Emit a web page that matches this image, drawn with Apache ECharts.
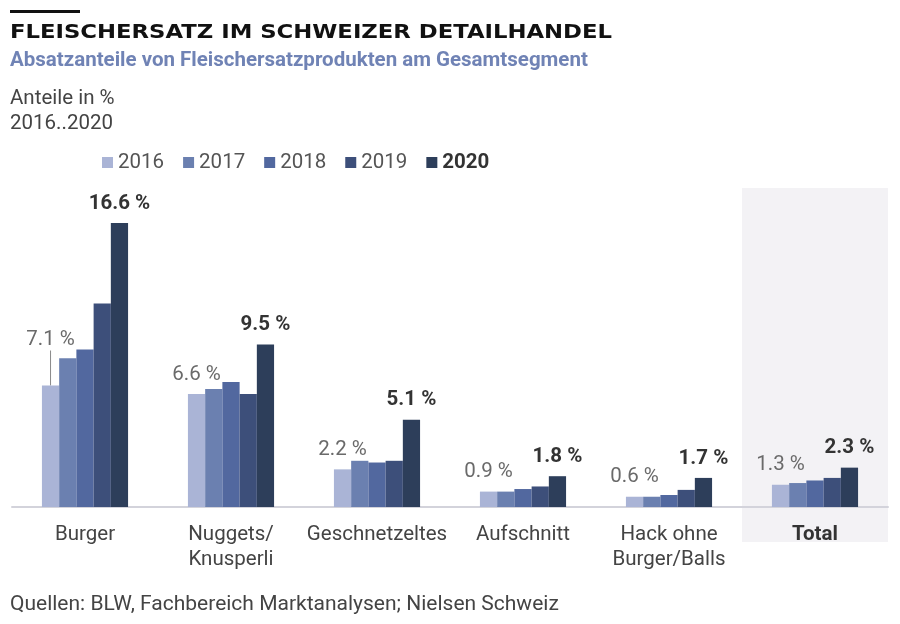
<!DOCTYPE html>
<html>
<head>
<meta charset="utf-8">
<script src="https://cdn.jsdelivr.net/npm/echarts@6/dist/echarts.min.js"></script>
<style>html,body{margin:0;padding:0;background:#fff}#c{width:900px;height:624px}</style>
</head>
<body>
<div id="c"></div>
<script>
const categories = ['Burger', 'Nuggets/\nKnusperli', 'Geschnetzeltes', 'Aufschnitt', 'Hack ohne\nBurger/Balls', 'Total'];
const years = ['2016', '2017', '2018', '2019', '2020'];
const v2016 = [7.1, 6.6, 2.2, 0.9, 0.6, 1.3];
const v2017 = [8.7, 6.9, 2.7, 0.9, 0.6, 1.4];
const v2018 = [9.2, 7.3, 2.6, 1.05, 0.7, 1.55];
const v2019 = [11.9, 6.6, 2.7, 1.2, 1.0, 1.7];
const v2020 = [16.6, 9.5, 5.1, 1.8, 1.7, 2.3];
const seriesValues = [v2016, v2017, v2018, v2019, v2020];
const colors = ['#aab4d6', '#6b80b0', '#52689f', '#3d4f7a', '#2d3e5a'];

const titleText = 'FLEISCHERSATZ IM SCHWEIZER DETAILHANDEL';
const subtitleText = 'Absatzanteile von Fleischersatzprodukten am Gesamtsegment';
const unitText = 'Anteile in %\n2016..2020';
const sourceText = 'Quellen: BLW, Fachbereich Marktanalysen; Nielsen Schweiz';

const FONT = 'Roboto';
const FS = 20.5;
const chart = echarts.init(document.getElementById('c'), null, {renderer: 'canvas'});

const series = years.map((y, i) => {
  const s = {
    name: y,
    type: 'bar',
    data: seriesValues[i],
    barGap: '0%',
    barCategoryGap: '41%',
    itemStyle: {color: colors[i]},
    z: 3
  };
  if (i === 0) {
    s.data = seriesValues[i].map((v, j) => (j === 0 ? {value: v, labelLine: {show: true}} : v));
    s.label = {
      show: true, position: 'top', distance: 9,
      fontFamily: FONT, fontSize: FS, color: '#6a6a6a',
      formatter: p => p.value.toFixed(1) + ' %'
    };
    s.labelLayout = p => (p.dataIndex === 0 ? {dy: -26} : {});
    s.labelLine = {show: false, lineStyle: {color: '#8a8a8a', width: 1}};
  } else if (i === 4) {
    s.label = {
      show: true, position: 'top', distance: 9,
      fontFamily: FONT, fontSize: FS, fontWeight: 'bold', color: '#333',
      formatter: p => p.value.toFixed(1) + ' %'
    };
  }
  return s;
});

const option = {
  backgroundColor: '#fff',
  animation: false,
  title: [
    {text: subtitleText, left: 10, top: 50, padding: 0,
     textStyle: {fontFamily: FONT, fontWeight: 'bold', fontSize: FS, color: '#7083b5'}},
    {text: unitText, left: 10, top: 87, padding: 0,
     textStyle: {fontFamily: FONT, fontWeight: 'normal', fontSize: FS, lineHeight: 24.5, color: '#444'}},
    {text: sourceText, left: 10, top: 594, padding: 0,
     textStyle: {fontFamily: FONT, fontWeight: 'normal', fontSize: 21, color: '#444'}}
  ],
  legend: {
    left: 102, top: 152, padding: 0,
    itemWidth: 11, itemHeight: 11, itemGap: 19,
    icon: 'rect',
    textStyle: {fontFamily: FONT, fontSize: FS, color: '#555'},
    data: years.map((y, i) => i === 4
      ? {name: y, textStyle: {fontWeight: 'bold', color: '#333'}}
      : {name: y})
  },
  grid: {left: 12, right: 12, top: 199, bottom: 117, containLabel: false},
  xAxis: {
    type: 'category',
    data: categories,
    axisLine: {lineStyle: {color: '#d3d3db', width: 2}},
    axisTick: {show: false},
    axisLabel: {
      fontFamily: FONT, fontSize: FS, color: '#444', lineHeight: 25, margin: 15,
      interval: 0,
      formatter: v => (v === 'Total' ? '{b|' + v + '}' : v),
      rich: {b: {fontFamily: FONT, fontSize: FS, fontWeight: 'bold', color: '#333'}}
    }
  },
  yAxis: {
    type: 'value', min: 0, max: 18,
    show: false,
    splitLine: {show: false}
  },
  series: series
};

chart.setOption(option);

// title: stretch horizontally to the reference's letter-spaced width
const titleFont = 'bold 20px "DejaVu Sans"';
const ctx = document.createElement('canvas').getContext('2d');
ctx.font = titleFont;
const tw = ctx.measureText(titleText).width || 530;
const titleScale = 602 / tw;

const cx = chart.convertToPixel({xAxisIndex: 0}, 'Total');
const band = (900 - 12 - 12) / categories.length;
chart.setOption({
  graphic: [
    {type: 'rect', z: -10, silent: true,
     shape: {x: cx - band / 2, y: 188, width: band, height: 354},
     style: {fill: '#f3f2f5'}},
    {type: 'rect', z: 10, silent: true,
     shape: {x: 10, y: 10, width: 70, height: 3},
     style: {fill: '#111'}},
    {type: 'text', z: 10, silent: true, x: 10, y: 23, scaleX: titleScale,
     style: {text: titleText, font: titleFont, fill: '#111', textVerticalAlign: 'top'}}
  ]
});
</script>
</body>
</html>
